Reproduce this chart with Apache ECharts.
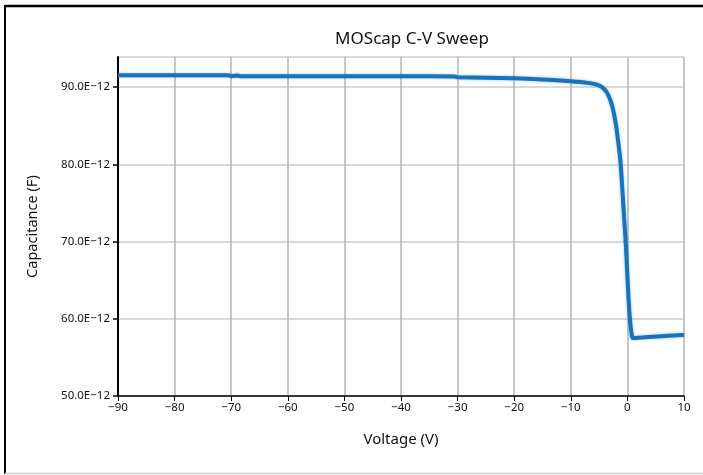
<!DOCTYPE html>
<html>
<head>
<meta charset="utf-8">
<script src="https://cdn.jsdelivr.net/npm/echarts@6/dist/echarts.min.js"></script>
<style>
  html, body { margin: 0; padding: 0; background: #fff; }
  #chart { width: 703px; height: 475px; }
</style>
</head>
<body>
<div id="chart"></div>
<script>
// sweep data
const voltage = [-90, -70.5, -70, -68.8, -68.4, -50, -40, -30.5, -30, -20, -15, -10, -7, -5.5, -4.5, -3.7, -3, -2.5, -2, -1.6, -1.2, -0.7, -0.25, 0.15, 0.5, 0.8, 1.0, 3, 6, 10]
const capacitancePF = [91.55, 91.55, 91.42, 91.5, 91.42, 91.42, 91.4, 91.38, 91.27, 91.15, 91.0, 90.75, 90.55, 90.35, 90.0, 89.4, 88.3, 87.0, 85.0, 82.8, 80.2, 74.5, 69.3, 63.3, 59.5, 57.8, 57.5, 57.6, 57.75, 57.9]
const xTicks = { min: -90, max: 10, step: 10 }
const yTicks = { min: 50, max: 93.9, step: 10 }

const font = 'Noto Sans'
const minus = s => String(s).replace('-', '\u2212')

let chart = echarts.init(document.getElementById('chart'))
chart.setOption({
  animation: false,
  title: {
    text: 'MOScap C-V Sweep',
    left: 407,
    top: 26,
    textAlign: 'center',
    textStyle: { fontFamily: font, fontSize: 17, fontWeight: 'normal', color: '#111' }
  },
  grid: { left: 118, right: 19, top: 57, bottom: 79 },
  xAxis: {
    type: 'value',
    min: xTicks.min,
    max: xTicks.max,
    interval: xTicks.step,
    name: 'Voltage (V)',
    nameLocation: 'middle',
    nameGap: 36,
    nameTextStyle: { fontFamily: font, fontSize: 15, color: '#111' },
    axisLine: { onZero: false, lineStyle: { color: '#000', width: 1.5 } },
    axisTick: { length: 5, lineStyle: { color: '#000' } },
    axisLabel: { fontFamily: font, fontSize: 11.5, color: '#111', margin: 6, formatter: v => minus(v) },
    splitLine: { show: true, lineStyle: { color: '#b4b4b4', width: 1.5 } }
  },
  yAxis: {
    type: 'value',
    min: yTicks.min,
    max: yTicks.max,
    interval: yTicks.step,
    name: 'Capacitance (F)',
    nameLocation: 'middle',
    nameGap: 78,
    nameTextStyle: { fontFamily: font, fontSize: 14.5, color: '#111' },
    axisLine: { show: true, onZero: false, lineStyle: { color: '#000', width: 2 } },
    axisTick: { show: true, length: 5, lineStyle: { color: '#000', width: 1.5 } },
    axisLabel: {
      fontFamily: font, fontSize: 11.5, color: '#111', margin: 8,
      showMaxLabel: false,
      formatter: v => v.toFixed(1) + 'E\u221212'
    },
    splitLine: { show: true, lineStyle: { color: '#cccccc', width: 1.5 } }
  },
  series: [{
    type: 'line',
    data: voltage.map((v, i) => [v, capacitancePF[i]]),
    showSymbol: false,
    smooth: 0.2,
    lineStyle: { color: '#1873ba', width: 4, shadowColor: 'rgba(24,115,186,0.45)', shadowBlur: 3 }
  }],
  graphic: [
    { type: 'line', shape: { x1: 5, y1: 6, x2: 703, y2: 6 }, style: { stroke: '#000', lineWidth: 2.5 } },
    { type: 'line', shape: { x1: 5, y1: 5, x2: 5, y2: 474 }, style: { stroke: '#000', lineWidth: 2 } },
    { type: 'line', shape: { x1: 5, y1: 473.5, x2: 703, y2: 473.5 }, style: { stroke: '#cfcfcf', lineWidth: 1.5 } }
  ]
})
</script>
</body>
</html>
